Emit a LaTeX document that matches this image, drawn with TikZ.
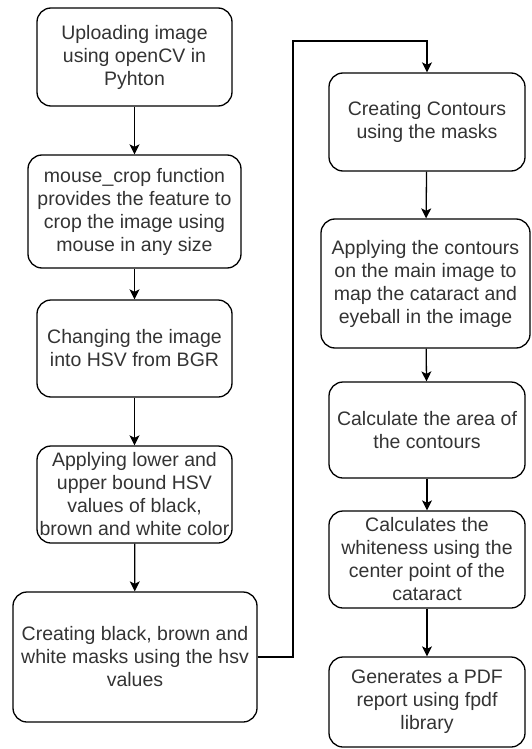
\documentclass[tikz,border=0pt]{standalone}
\usepackage{fontspec}
\setmainfont{Liberation Sans}
\usetikzlibrary{arrows.meta,%
                positioning}
\tikzstyle{stepnode}=[rectangle, draw, rounded corners=14pt, line width=1.3pt, text=black!80, align=center, inner sep=0pt, font=\fontsize{19.5}{23}\selectfont]
\tikzstyle{flow}=[-{Stealth[length=10pt,width=10pt,inset=2.5pt]}, line width=1.3pt]

\begin{document}
\begin{tikzpicture}[x=1pt,y=-1pt]
  \useasboundingbox (0,0) rectangle (531,749);
  % left column
  \node[stepnode, minimum width=195pt, minimum height=98pt] (upload) at (134.5,57) {Uploading image\\using openCV in\\Pyhton};
  \node[stepnode, minimum width=213pt, minimum height=113pt] (crop) at (134.5,211.5) {mouse\_crop function\\provides the feature to\\crop the image using\\mouse in any size};
  \node[stepnode, minimum width=195pt, minimum height=97pt] (hsv) at (134.5,348.5) {Changing the image\\into HSV from BGR};
  \node[stepnode, minimum width=195pt, minimum height=97pt] (bound) at (134.5,494.5) {Applying lower and\\upper bound HSV\\values of black,\\brown and white color};
  \node[stepnode, minimum width=244pt, minimum height=130pt] (mask) at (135,657) {Creating black, brown and\\white masks using the hsv\\values};
  % right column
  \node[stepnode, minimum width=196pt, minimum height=98pt] (contour) at (427,122) {Creating Contours\\using the masks};
  \node[stepnode, minimum width=209pt, minimum height=129pt] (apply) at (425.5,283.5) {Applying the contours\\on the main image to\\map the cataract and\\eyeball in the image};
  \node[stepnode, minimum width=196pt, minimum height=96pt] (area) at (427,430) {Calculate the area of\\the contours};
  \node[stepnode, minimum width=196pt, minimum height=97pt] (white) at (427,559.5) {Calculates the\\whiteness using the\\center point of the\\cataract};
  \node[stepnode, minimum width=196pt, minimum height=90pt] (report) at (427,702) {Generates a PDF\\report using fpdf\\library};

  \coordinate (bend) at (293,41);

  \draw[flow] (upload) -- (crop);
  \draw[flow] (crop) -- (hsv);
  \draw[flow] (hsv) -- (bound);
  \draw[flow] (bound) -- (mask);
  \draw[flow] (mask.east) -| (bend) -| (contour.north);
  \draw[flow] (contour) -- (apply);
  \draw[flow] (apply) -- (area);
  \draw[flow] (area) -- (white);
  \draw[flow] (white) -- (report);
\end{tikzpicture}
\end{document}
